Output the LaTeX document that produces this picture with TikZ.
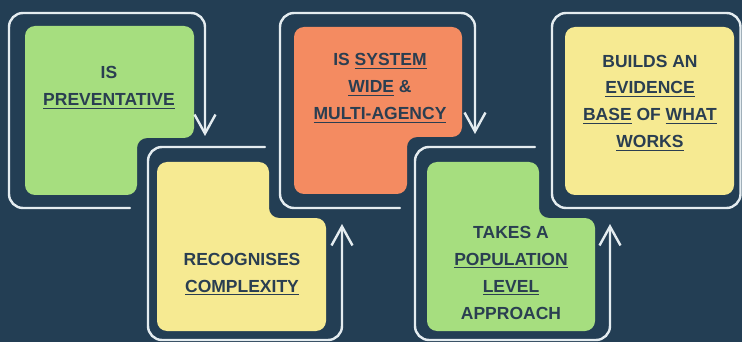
\documentclass[tikz,border=0pt]{standalone}
\usepackage{fontspec}
\setmainfont{Liberation Sans}
\usetikzlibrary{arrows.meta}
\definecolor{navy}{HTML}{233E54}
\definecolor{leaf}{HTML}{A6DE7F}
\definecolor{sand}{HTML}{F6EA92}
\definecolor{coral}{HTML}{F48B61}
\definecolor{chalk}{HTML}{E4ECF0}
\definecolor{ink}{HTML}{2A3E51}
% underlined word with a heavier rule
\newsavebox{\ulbox}
\newcommand{\ulword}[1]{\sbox{\ulbox}{#1}\rlap{\rule[-3.2pt]{\wd\ulbox}{1.5pt}}\usebox{\ulbox}}
\begin{document}
\begin{tikzpicture}[x=1pt,y=-1pt,
  card/.style={rounded corners=10pt},
  frame/.style={draw=chalk,line width=2.4pt,rounded corners=14pt,line cap=round},
  flow/.style={frame,-{Straight Barb[length=19pt,width=21pt,line width=2.4pt]}},
  label/.style={text=ink,align=center,inner sep=0pt,anchor=base,
    font=\fontsize{17.5}{27}\selectfont\bfseries}]
\useasboundingbox (0,0) rectangle (742,342);
\fill[navy] (0,0) rectangle (742,342);

% cards
\fill[leaf,card]  (25,26) -- (194,26) -- (194,138) -- (137,138) -- (137,195) -- (25,195) -- cycle;
\fill[sand,card]  (157,162) -- (269,162) -- (269,218) -- (326,218) -- (326,331) -- (157,331) -- cycle;
\fill[coral,card] (294,27) -- (462,27) -- (462,137) -- (407,137) -- (407,194) -- (294,194) -- cycle;
\fill[leaf,card]  (427,162) -- (539,162) -- (539,218) -- (595,218) -- (595,331) -- (427,331) -- cycle;
\fill[sand,card]  (565,27) rectangle (734,195);

% frames with arrows
\draw[flow] (130,208) -- (9,208) -- (9,13) -- (205,13) -- (205,136);
\draw[flow] (265,147) -- (148,147) -- (148,340) -- (342,340) -- (342,224);
\draw[flow] (400,208) -- (280,208) -- (280,13) -- (475,13) -- (475,134);
\draw[flow] (535,147) -- (415,147) -- (415,340) -- (610,340) -- (610,224);
\draw[frame] (552,13) rectangle (740.5,208);

% texts (anchored at the baseline of the last line)
\node[label] (t1) at (109,106) {IS\\\ulword{PREVENTATIVE}};
\node[label] (t2) at (242,292) {RECOGNISES\\\ulword{COMPLEXITY}};
\node[label] (t3) at (380,120) {IS \ulword{SYSTEM}\\\ulword{WIDE} \&\\\ulword{MULTI-AGENCY}};
\node[label] (t4) at (511,319) {TAKES A\\\ulword{POPULATION}\\\ulword{LEVEL}\\APPROACH};
\node[label] (t5) at (650,148) {BUILDS AN\\\ulword{EVIDENCE}\\\ulword{BASE} OF \ulword{WHAT}\\\ulword{WORKS}};
\end{tikzpicture}
\end{document}
